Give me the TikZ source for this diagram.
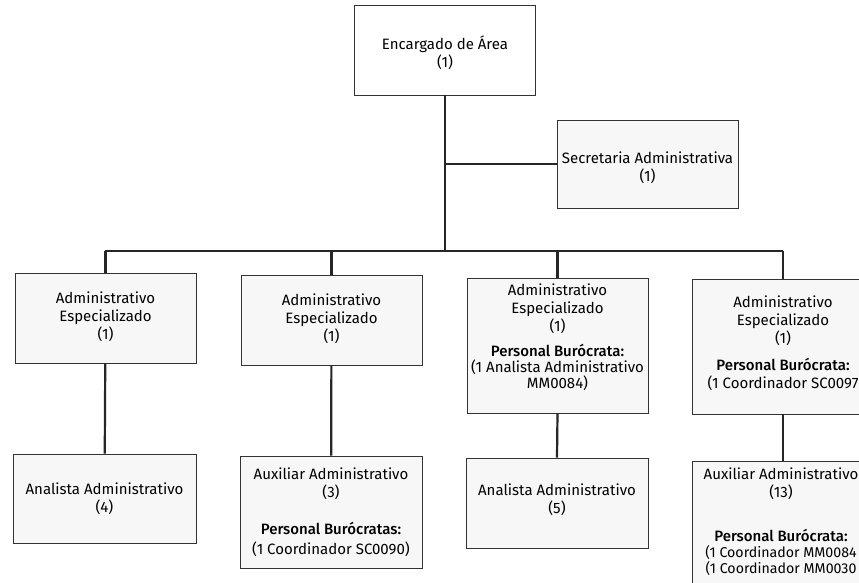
\documentclass[tikz,border=0pt]{standalone}
\usepackage{fontspec}
\setmainfont{Fira Sans}[BoldFont={* Medium}]
\begin{document}
\begin{tikzpicture}[x=1pt,y=-1pt,
  box/.style={draw=black!80,line width=0.8pt,fill=gray!6,
    minimum width=181pt,inner sep=0pt},
  txt/.style={align=center,inner sep=0pt,
    font=\fontsize{15pt}{18pt}\selectfont},
  conn/.style={line width=2.2pt,draw=black!85}]
\useasboundingbox (0,0) rectangle (859,583);
\clip (0,0) rectangle (859,583);
\fill[white] (0,0) rectangle (859,583);
% boxes
\node[box,fill=white,minimum height=90pt] (top) at (445,50) {};
\node[box,minimum height=88pt] (sec) at (647.5,164) {};
\node[box,minimum height=90pt] (a1) at (105.5,318) {};
\node[box,minimum height=90pt] (a2) at (331.5,320) {};
\node[box,minimum height=135pt] (a3) at (557.5,345.5) {};
\node[box,minimum height=135pt] (a4) at (783,346.5) {};
\node[box,minimum height=89pt,minimum width=183pt] (b1) at (104.5,498.5) {};
\node[box,minimum height=112pt,minimum width=182pt] (b2) at (331,512) {};
\node[box,minimum height=90pt,minimum width=182pt] (b3) at (557,503) {};
\node[box,minimum height=135pt,anchor=north] (b4) at (783,461) {};
% texts
\node[txt] (topt) at (445,53) {Encargado de Área\\(1)};
\node[txt] (sect) at (647.5,168) {Secretaria Administrativa\\(1)};
\node[txt] (a1t) at (105.5,317) {Administrativo\\Especializado\\(1)};
\node[txt] (a2t) at (331.5,319) {Administrativo\\Especializado\\(1)};
\node[txt] (a3t) at (557.5,337.5) {Administrativo\\Especializado\\(1)\\[7pt]\textbf{Personal Burócrata:}\\[-2pt](1 Analista Administrativo\\[-2pt]MM0084)};
\node[txt] (a4t) at (783,343) {Administrativo\\Especializado\\(1)\\[9pt]\textbf{Personal Burócrata:}\\(1 Coordinador SC0097};
\node[txt] (b1t) at (104.5,499) {Analista Administrativo\\(4)};
\node[txt] (b2t) at (331,512.5) {Auxiliar Administrativo\\(3)\\[19pt]\textbf{Personal Burócratas:}\\[2pt](1 Coordinador SC0090)};
\node[txt] (b3t) at (557,499.5) {Analista Administrativo\\(5)};
\node[txt] (b4t) at (781,521.5) {Auxiliar Administrativo\\(13)\\[26pt]\textbf{Personal Burócrata:}\\[-2pt]{\fontsize{14.2pt}{16pt}\selectfont(1 Coordinador MM0084}\\[-2pt]{\fontsize{14.2pt}{16pt}\selectfont(1 Coordinador MM0030}};
% connectors
\coordinate (busL) at (105,251);
\coordinate (busR) at (783,251);
\draw[conn] (top.south) -- (top.south |- busL);
\draw[conn] (sec.west) -- (sec.west -| top.south);
\draw[conn] (busL) -- (busR);
\foreach \n in {a1,a2,a3,a4}{\draw[conn] (\n.north |- busL) -- (\n.north);}
\draw[conn] (a1) -- (b1);
\draw[conn] (a2) -- (b2);
\draw[conn] (a3.south) -- (b3.north);
\draw[conn] (a4) -- (b4);
\end{tikzpicture}
\end{document}
